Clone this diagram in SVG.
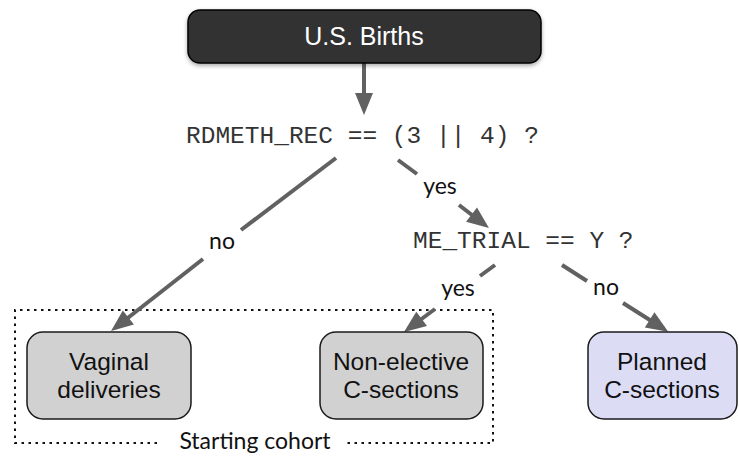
<svg xmlns="http://www.w3.org/2000/svg" width="739" height="457" viewBox="0 0 739 457">
<defs>
<style>
.box{fill:#d1d1d1;stroke:#1a1a1a;stroke-width:1.5}
.plan{fill:#dcdcf5;stroke:#1a1a1a;stroke-width:1.5}
.bt{font-family:"Liberation Sans",Arial,sans-serif;font-size:24.5px;fill:#111;text-anchor:middle}
.code{font-family:"Liberation Mono","Courier New",monospace;font-size:24.5px;fill:#333;text-anchor:start}
.lbl{font-family:Lato,"Noto Sans",sans-serif;font-size:23px;fill:#111;text-anchor:middle}
.edge{stroke:#616161;stroke-width:4;fill:none}
.dot{stroke:#111;stroke-width:2;fill:none;stroke-dasharray:2.5 4.5}
</style>
<marker id="ah" markerUnits="userSpaceOnUse" markerWidth="22" markerHeight="18" refX="17" refY="9" orient="auto" overflow="visible">
<path d="M0,0 L22,9 L0,18 z" fill="#616161"/>
</marker>
<filter id="sh" x="-10%" y="-30%" width="120%" height="170%">
<feDropShadow dx="0" dy="2" stdDeviation="2" flood-color="#000" flood-opacity="0.35"/>
</filter>
</defs>
<g id="cohort">
<path class="dot" d="M157,443 L15,443 L15,310 L493,310 L493,443 L343,443"/>
<text class="lbl" x="255" y="449">Starting cohort</text>
</g>
<g id="connectors">
<line class="edge" x1="364" y1="63" x2="364" y2="110" marker-end="url(#ah)"/>
<line class="edge" x1="336" y1="158" x2="241" y2="230"/>
<line class="edge" x1="203" y1="259" x2="115" y2="328" marker-end="url(#ah)"/>
<line class="edge" x1="398" y1="160" x2="417" y2="174"/>
<line class="edge" x1="459" y1="205" x2="485" y2="225" marker-end="url(#ah)"/>
<line class="edge" x1="495" y1="265" x2="480" y2="276"/>
<line class="edge" x1="435" y1="309" x2="408" y2="329" marker-end="url(#ah)"/>
<line class="edge" x1="562" y1="265" x2="587" y2="281"/>
<line class="edge" x1="623" y1="303" x2="664" y2="329" marker-end="url(#ah)"/>
<text class="lbl" x="222" y="249">no</text>
<text class="lbl" x="440" y="194">yes</text>
<text class="lbl" x="458" y="296">yes</text>
<text class="lbl" x="606" y="295">no</text>
</g>
<g id="births">
<rect x="188" y="10" width="353" height="53" rx="12" fill="#323232" stroke="#000" stroke-width="1.5" filter="url(#sh)"/>
<text class="bt" x="364" y="45" style="fill:#fff;font-size:25px">U.S. Births</text>
</g>
<g id="q1">
<text class="code" x="186" y="143">RDMETH_REC == (3 || 4) ?</text>
</g>
<g id="q2">
<text class="code" x="413" y="248">ME_TRIAL == Y ?</text>
</g>
<g id="vaginal">
<rect class="box" x="27" y="332" width="164" height="87" rx="16"/>
<text class="bt" x="109" y="370">Vaginal</text>
<text class="bt" x="109" y="398">deliveries</text>
</g>
<g id="nonelective">
<rect class="box" x="320" y="332" width="163" height="87" rx="16"/>
<text class="bt" x="401" y="370">Non-elective</text>
<text class="bt" x="401" y="398">C-sections</text>
</g>
<g id="planned">
<rect class="plan" x="588" y="332" width="149" height="87" rx="16"/>
<text class="bt" x="662" y="370">Planned</text>
<text class="bt" x="662" y="398">C-sections</text>
</g>
</svg>
